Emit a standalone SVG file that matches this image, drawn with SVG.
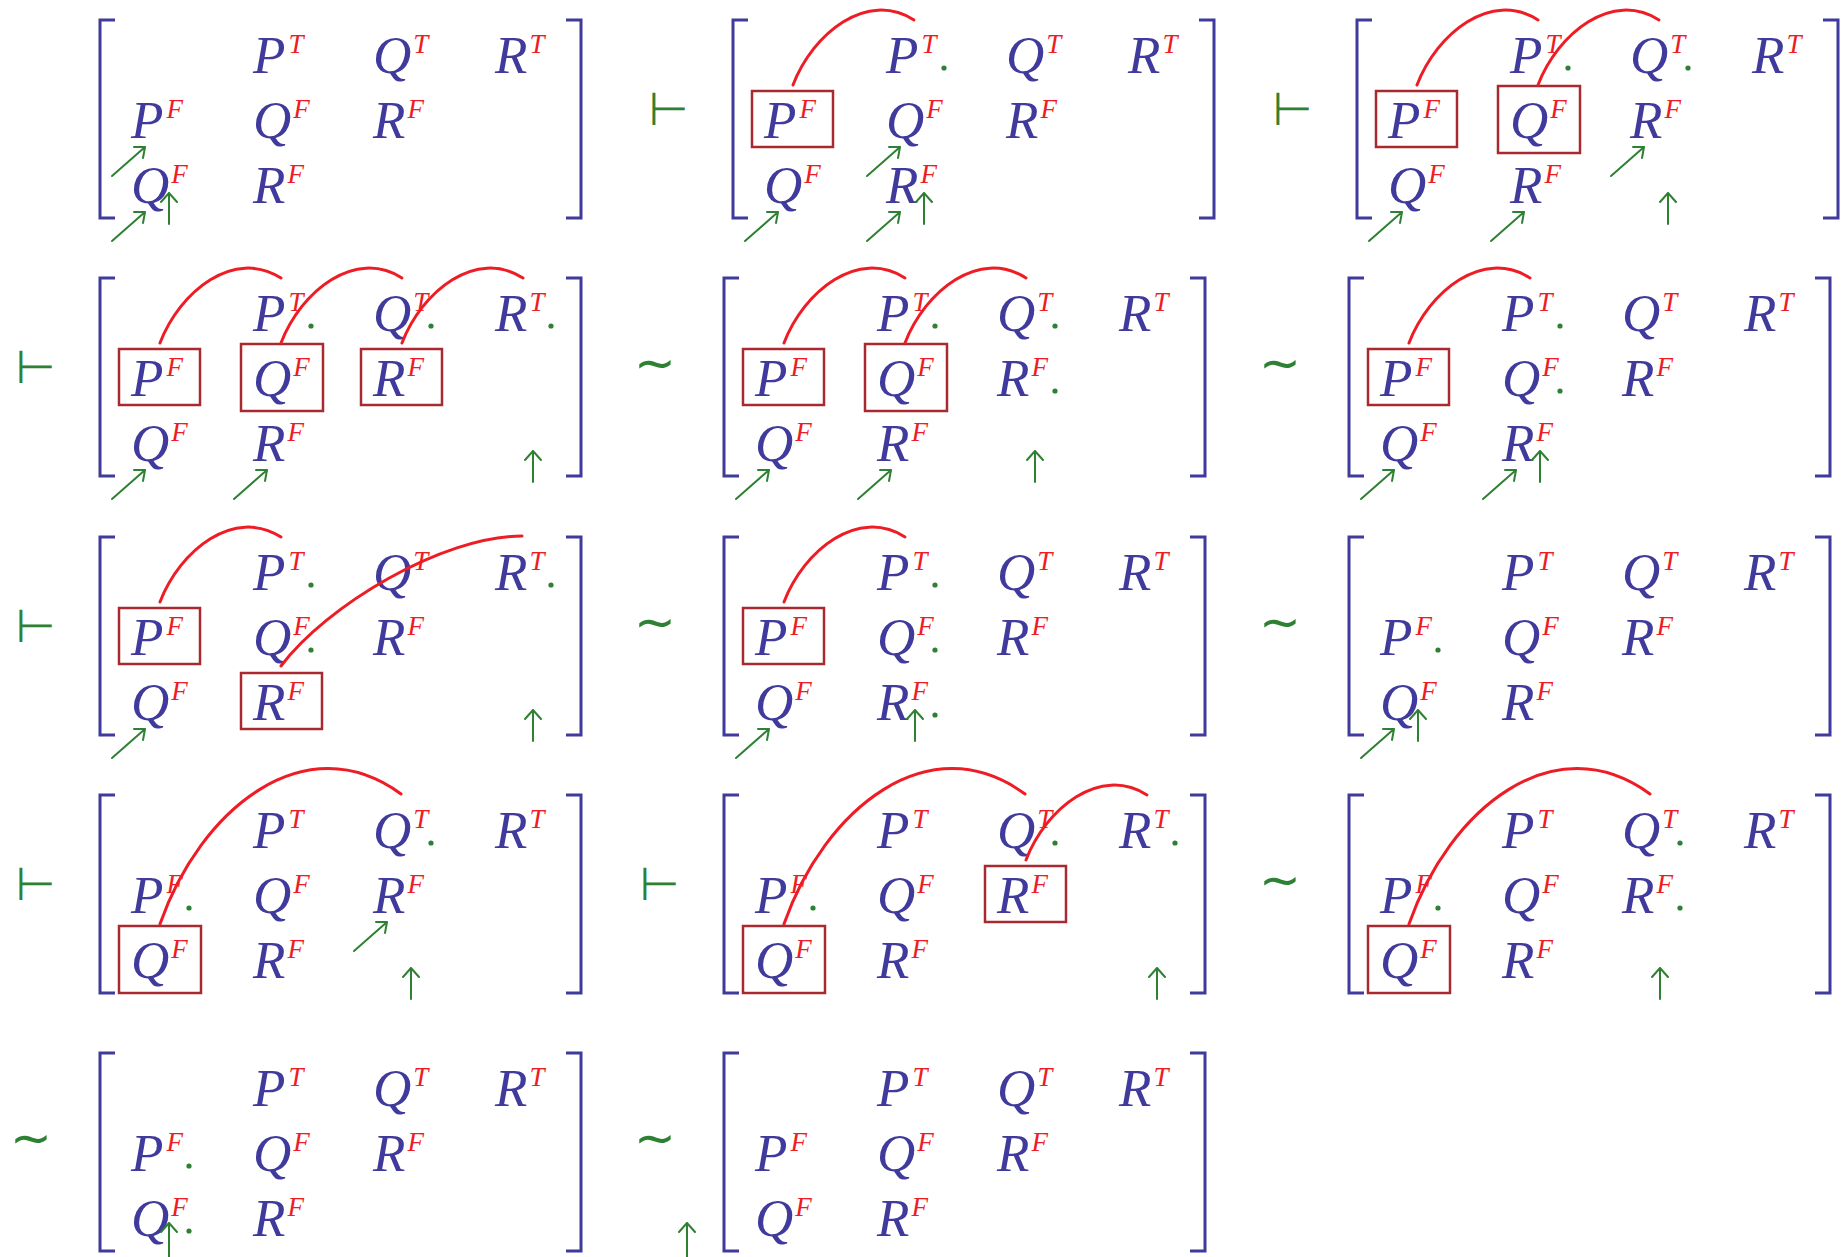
<svg xmlns="http://www.w3.org/2000/svg" width="1841" height="1257" viewBox="0 0 1841 1257">
<style>
.br{fill:none;stroke:#3f3a9b;stroke-width:3}
.m{font-family:"Liberation Serif",serif;font-style:italic;font-size:53px;fill:#3f3a9b}
.s{font-size:27px;fill:#ee1c24}
.bx{fill:none;stroke:#a8292f;stroke-width:2.5}
.dot{fill:#2e8032}
.arc{fill:none;stroke:#ee1c24;stroke-width:3;stroke-linecap:round}
.ar{fill:none;stroke:#2e8032;stroke-width:2;stroke-linecap:round;stroke-linejoin:round}
.op{font-family:"DejaVu Sans",sans-serif;fill:#2e8032;text-anchor:middle}
.ts{font-size:46px}
.ti{font-size:50px}
</style>
<rect width="1841" height="1257" fill="#fff"/>
<g id="operators">
<text class="op ts" x="668.5" y="125">⊢</text>
<text class="op ts" x="1292.5" y="125">⊢</text>
<text class="op ts" x="35.5" y="383">⊢</text>
<text class="op ti" x="655" y="380">∼</text>
<text class="op ti" x="1280" y="380">∼</text>
<text class="op ts" x="35.5" y="642">⊢</text>
<text class="op ti" x="655" y="639">∼</text>
<text class="op ti" x="1280" y="639">∼</text>
<text class="op ts" x="35.5" y="900">⊢</text>
<text class="op ts" x="659.5" y="900">⊢</text>
<text class="op ti" x="1280" y="897">∼</text>
<text class="op ti" x="31" y="1155">∼</text>
<text class="op ti" x="655" y="1155">∼</text>
</g>
<g id="m-A1" transform="translate(100,20)">
<path class="br" d="M15,0H0V198H15M466,0H481V198H466"/>
<text class="m" x="153" y="53">P<tspan class="s" dx="3" dy="-20">T</tspan></text>
<text class="m" x="273" y="53">Q<tspan class="s" dx="2" dy="-20">T</tspan></text>
<text class="m" x="395" y="53">R<tspan class="s" dx="2" dy="-20">T</tspan></text>
<text class="m" x="31" y="118">P<tspan class="s" dx="3" dy="-20">F</tspan></text>
<text class="m" x="153" y="118">Q<tspan class="s" dx="2" dy="-20">F</tspan></text>
<text class="m" x="273" y="118">R<tspan class="s" dx="2" dy="-20">F</tspan></text>
<text class="m" x="31" y="183">Q<tspan class="s" dx="2" dy="-20">F</tspan></text>
<text class="m" x="153" y="183">R<tspan class="s" dx="2" dy="-20">F</tspan></text>
</g>
<g id="m-A2" transform="translate(733,20)">
<path class="br" d="M15,0H0V198H15M466,0H481V198H466"/>
<text class="m" x="153" y="53">P<tspan class="s" dx="3" dy="-20">T</tspan></text>
<text class="m" x="273" y="53">Q<tspan class="s" dx="2" dy="-20">T</tspan></text>
<text class="m" x="395" y="53">R<tspan class="s" dx="2" dy="-20">T</tspan></text>
<text class="m" x="31" y="118">P<tspan class="s" dx="3" dy="-20">F</tspan></text>
<text class="m" x="153" y="118">Q<tspan class="s" dx="2" dy="-20">F</tspan></text>
<text class="m" x="273" y="118">R<tspan class="s" dx="2" dy="-20">F</tspan></text>
<text class="m" x="31" y="183">Q<tspan class="s" dx="2" dy="-20">F</tspan></text>
<text class="m" x="153" y="183">R<tspan class="s" dx="2" dy="-20">F</tspan></text>
<rect class="bx" x="19" y="71" width="81" height="56"/>
<circle class="dot" cx="211" cy="48" r="2.6"/>
</g>
<g id="m-A3" transform="translate(1357,20)">
<path class="br" d="M15,0H0V198H15M466,0H481V198H466"/>
<text class="m" x="153" y="53">P<tspan class="s" dx="3" dy="-20">T</tspan></text>
<text class="m" x="273" y="53">Q<tspan class="s" dx="2" dy="-20">T</tspan></text>
<text class="m" x="395" y="53">R<tspan class="s" dx="2" dy="-20">T</tspan></text>
<text class="m" x="31" y="118">P<tspan class="s" dx="3" dy="-20">F</tspan></text>
<text class="m" x="153" y="118">Q<tspan class="s" dx="2" dy="-20">F</tspan></text>
<text class="m" x="273" y="118">R<tspan class="s" dx="2" dy="-20">F</tspan></text>
<text class="m" x="31" y="183">Q<tspan class="s" dx="2" dy="-20">F</tspan></text>
<text class="m" x="153" y="183">R<tspan class="s" dx="2" dy="-20">F</tspan></text>
<rect class="bx" x="19" y="71" width="81" height="56"/>
<rect class="bx" x="141" y="66" width="82" height="67"/>
<circle class="dot" cx="211" cy="48" r="2.6"/>
<circle class="dot" cx="331" cy="48" r="2.6"/>
</g>
<g id="m-B1" transform="translate(100,278)">
<path class="br" d="M15,0H0V198H15M466,0H481V198H466"/>
<text class="m" x="153" y="53">P<tspan class="s" dx="3" dy="-20">T</tspan></text>
<text class="m" x="273" y="53">Q<tspan class="s" dx="2" dy="-20">T</tspan></text>
<text class="m" x="395" y="53">R<tspan class="s" dx="2" dy="-20">T</tspan></text>
<text class="m" x="31" y="118">P<tspan class="s" dx="3" dy="-20">F</tspan></text>
<text class="m" x="153" y="118">Q<tspan class="s" dx="2" dy="-20">F</tspan></text>
<text class="m" x="273" y="118">R<tspan class="s" dx="2" dy="-20">F</tspan></text>
<text class="m" x="31" y="183">Q<tspan class="s" dx="2" dy="-20">F</tspan></text>
<text class="m" x="153" y="183">R<tspan class="s" dx="2" dy="-20">F</tspan></text>
<rect class="bx" x="19" y="71" width="81" height="56"/>
<rect class="bx" x="141" y="66" width="82" height="67"/>
<rect class="bx" x="261" y="71" width="81" height="56"/>
<circle class="dot" cx="211" cy="48" r="2.6"/>
<circle class="dot" cx="331" cy="48" r="2.6"/>
<circle class="dot" cx="451" cy="48" r="2.6"/>
</g>
<g id="m-B2" transform="translate(724,278)">
<path class="br" d="M15,0H0V198H15M466,0H481V198H466"/>
<text class="m" x="153" y="53">P<tspan class="s" dx="3" dy="-20">T</tspan></text>
<text class="m" x="273" y="53">Q<tspan class="s" dx="2" dy="-20">T</tspan></text>
<text class="m" x="395" y="53">R<tspan class="s" dx="2" dy="-20">T</tspan></text>
<text class="m" x="31" y="118">P<tspan class="s" dx="3" dy="-20">F</tspan></text>
<text class="m" x="153" y="118">Q<tspan class="s" dx="2" dy="-20">F</tspan></text>
<text class="m" x="273" y="118">R<tspan class="s" dx="2" dy="-20">F</tspan></text>
<text class="m" x="31" y="183">Q<tspan class="s" dx="2" dy="-20">F</tspan></text>
<text class="m" x="153" y="183">R<tspan class="s" dx="2" dy="-20">F</tspan></text>
<rect class="bx" x="19" y="71" width="81" height="56"/>
<rect class="bx" x="141" y="66" width="82" height="67"/>
<circle class="dot" cx="211" cy="48" r="2.6"/>
<circle class="dot" cx="331" cy="48" r="2.6"/>
<circle class="dot" cx="331" cy="113" r="2.6"/>
</g>
<g id="m-B3" transform="translate(1349,278)">
<path class="br" d="M15,0H0V198H15M466,0H481V198H466"/>
<text class="m" x="153" y="53">P<tspan class="s" dx="3" dy="-20">T</tspan></text>
<text class="m" x="273" y="53">Q<tspan class="s" dx="2" dy="-20">T</tspan></text>
<text class="m" x="395" y="53">R<tspan class="s" dx="2" dy="-20">T</tspan></text>
<text class="m" x="31" y="118">P<tspan class="s" dx="3" dy="-20">F</tspan></text>
<text class="m" x="153" y="118">Q<tspan class="s" dx="2" dy="-20">F</tspan></text>
<text class="m" x="273" y="118">R<tspan class="s" dx="2" dy="-20">F</tspan></text>
<text class="m" x="31" y="183">Q<tspan class="s" dx="2" dy="-20">F</tspan></text>
<text class="m" x="153" y="183">R<tspan class="s" dx="2" dy="-20">F</tspan></text>
<rect class="bx" x="19" y="71" width="81" height="56"/>
<circle class="dot" cx="211" cy="48" r="2.6"/>
<circle class="dot" cx="211" cy="113" r="2.6"/>
</g>
<g id="m-C1" transform="translate(100,537)">
<path class="br" d="M15,0H0V198H15M466,0H481V198H466"/>
<text class="m" x="153" y="53">P<tspan class="s" dx="3" dy="-20">T</tspan></text>
<text class="m" x="273" y="53">Q<tspan class="s" dx="2" dy="-20">T</tspan></text>
<text class="m" x="395" y="53">R<tspan class="s" dx="2" dy="-20">T</tspan></text>
<text class="m" x="31" y="118">P<tspan class="s" dx="3" dy="-20">F</tspan></text>
<text class="m" x="153" y="118">Q<tspan class="s" dx="2" dy="-20">F</tspan></text>
<text class="m" x="273" y="118">R<tspan class="s" dx="2" dy="-20">F</tspan></text>
<text class="m" x="31" y="183">Q<tspan class="s" dx="2" dy="-20">F</tspan></text>
<text class="m" x="153" y="183">R<tspan class="s" dx="2" dy="-20">F</tspan></text>
<rect class="bx" x="19" y="71" width="81" height="56"/>
<rect class="bx" x="141" y="136" width="81" height="56"/>
<circle class="dot" cx="211" cy="48" r="2.6"/>
<circle class="dot" cx="451" cy="48" r="2.6"/>
<circle class="dot" cx="211" cy="113" r="2.6"/>
</g>
<g id="m-C2" transform="translate(724,537)">
<path class="br" d="M15,0H0V198H15M466,0H481V198H466"/>
<text class="m" x="153" y="53">P<tspan class="s" dx="3" dy="-20">T</tspan></text>
<text class="m" x="273" y="53">Q<tspan class="s" dx="2" dy="-20">T</tspan></text>
<text class="m" x="395" y="53">R<tspan class="s" dx="2" dy="-20">T</tspan></text>
<text class="m" x="31" y="118">P<tspan class="s" dx="3" dy="-20">F</tspan></text>
<text class="m" x="153" y="118">Q<tspan class="s" dx="2" dy="-20">F</tspan></text>
<text class="m" x="273" y="118">R<tspan class="s" dx="2" dy="-20">F</tspan></text>
<text class="m" x="31" y="183">Q<tspan class="s" dx="2" dy="-20">F</tspan></text>
<text class="m" x="153" y="183">R<tspan class="s" dx="2" dy="-20">F</tspan></text>
<rect class="bx" x="19" y="71" width="81" height="56"/>
<circle class="dot" cx="211" cy="48" r="2.6"/>
<circle class="dot" cx="211" cy="113" r="2.6"/>
<circle class="dot" cx="211" cy="178" r="2.6"/>
</g>
<g id="m-C3" transform="translate(1349,537)">
<path class="br" d="M15,0H0V198H15M466,0H481V198H466"/>
<text class="m" x="153" y="53">P<tspan class="s" dx="3" dy="-20">T</tspan></text>
<text class="m" x="273" y="53">Q<tspan class="s" dx="2" dy="-20">T</tspan></text>
<text class="m" x="395" y="53">R<tspan class="s" dx="2" dy="-20">T</tspan></text>
<text class="m" x="31" y="118">P<tspan class="s" dx="3" dy="-20">F</tspan></text>
<text class="m" x="153" y="118">Q<tspan class="s" dx="2" dy="-20">F</tspan></text>
<text class="m" x="273" y="118">R<tspan class="s" dx="2" dy="-20">F</tspan></text>
<text class="m" x="31" y="183">Q<tspan class="s" dx="2" dy="-20">F</tspan></text>
<text class="m" x="153" y="183">R<tspan class="s" dx="2" dy="-20">F</tspan></text>
<circle class="dot" cx="89" cy="113" r="2.6"/>
</g>
<g id="m-D1" transform="translate(100,795)">
<path class="br" d="M15,0H0V198H15M466,0H481V198H466"/>
<text class="m" x="153" y="53">P<tspan class="s" dx="3" dy="-20">T</tspan></text>
<text class="m" x="273" y="53">Q<tspan class="s" dx="2" dy="-20">T</tspan></text>
<text class="m" x="395" y="53">R<tspan class="s" dx="2" dy="-20">T</tspan></text>
<text class="m" x="31" y="118">P<tspan class="s" dx="3" dy="-20">F</tspan></text>
<text class="m" x="153" y="118">Q<tspan class="s" dx="2" dy="-20">F</tspan></text>
<text class="m" x="273" y="118">R<tspan class="s" dx="2" dy="-20">F</tspan></text>
<text class="m" x="31" y="183">Q<tspan class="s" dx="2" dy="-20">F</tspan></text>
<text class="m" x="153" y="183">R<tspan class="s" dx="2" dy="-20">F</tspan></text>
<rect class="bx" x="19" y="131" width="82" height="67"/>
<circle class="dot" cx="331" cy="48" r="2.6"/>
<circle class="dot" cx="89" cy="113" r="2.6"/>
</g>
<g id="m-D2" transform="translate(724,795)">
<path class="br" d="M15,0H0V198H15M466,0H481V198H466"/>
<text class="m" x="153" y="53">P<tspan class="s" dx="3" dy="-20">T</tspan></text>
<text class="m" x="273" y="53">Q<tspan class="s" dx="2" dy="-20">T</tspan></text>
<text class="m" x="395" y="53">R<tspan class="s" dx="2" dy="-20">T</tspan></text>
<text class="m" x="31" y="118">P<tspan class="s" dx="3" dy="-20">F</tspan></text>
<text class="m" x="153" y="118">Q<tspan class="s" dx="2" dy="-20">F</tspan></text>
<text class="m" x="273" y="118">R<tspan class="s" dx="2" dy="-20">F</tspan></text>
<text class="m" x="31" y="183">Q<tspan class="s" dx="2" dy="-20">F</tspan></text>
<text class="m" x="153" y="183">R<tspan class="s" dx="2" dy="-20">F</tspan></text>
<rect class="bx" x="19" y="131" width="82" height="67"/>
<rect class="bx" x="261" y="71" width="81" height="56"/>
<circle class="dot" cx="331" cy="48" r="2.6"/>
<circle class="dot" cx="451" cy="48" r="2.6"/>
<circle class="dot" cx="89" cy="113" r="2.6"/>
</g>
<g id="m-D3" transform="translate(1349,795)">
<path class="br" d="M15,0H0V198H15M466,0H481V198H466"/>
<text class="m" x="153" y="53">P<tspan class="s" dx="3" dy="-20">T</tspan></text>
<text class="m" x="273" y="53">Q<tspan class="s" dx="2" dy="-20">T</tspan></text>
<text class="m" x="395" y="53">R<tspan class="s" dx="2" dy="-20">T</tspan></text>
<text class="m" x="31" y="118">P<tspan class="s" dx="3" dy="-20">F</tspan></text>
<text class="m" x="153" y="118">Q<tspan class="s" dx="2" dy="-20">F</tspan></text>
<text class="m" x="273" y="118">R<tspan class="s" dx="2" dy="-20">F</tspan></text>
<text class="m" x="31" y="183">Q<tspan class="s" dx="2" dy="-20">F</tspan></text>
<text class="m" x="153" y="183">R<tspan class="s" dx="2" dy="-20">F</tspan></text>
<rect class="bx" x="19" y="131" width="82" height="67"/>
<circle class="dot" cx="331" cy="48" r="2.6"/>
<circle class="dot" cx="89" cy="113" r="2.6"/>
<circle class="dot" cx="331" cy="113" r="2.6"/>
</g>
<g id="m-E1" transform="translate(100,1053)">
<path class="br" d="M15,0H0V198H15M466,0H481V198H466"/>
<text class="m" x="153" y="53">P<tspan class="s" dx="3" dy="-20">T</tspan></text>
<text class="m" x="273" y="53">Q<tspan class="s" dx="2" dy="-20">T</tspan></text>
<text class="m" x="395" y="53">R<tspan class="s" dx="2" dy="-20">T</tspan></text>
<text class="m" x="31" y="118">P<tspan class="s" dx="3" dy="-20">F</tspan></text>
<text class="m" x="153" y="118">Q<tspan class="s" dx="2" dy="-20">F</tspan></text>
<text class="m" x="273" y="118">R<tspan class="s" dx="2" dy="-20">F</tspan></text>
<text class="m" x="31" y="183">Q<tspan class="s" dx="2" dy="-20">F</tspan></text>
<text class="m" x="153" y="183">R<tspan class="s" dx="2" dy="-20">F</tspan></text>
<circle class="dot" cx="89" cy="113" r="2.6"/>
<circle class="dot" cx="89" cy="178" r="2.6"/>
</g>
<g id="m-E2" transform="translate(724,1053)">
<path class="br" d="M15,0H0V198H15M466,0H481V198H466"/>
<text class="m" x="153" y="53">P<tspan class="s" dx="3" dy="-20">T</tspan></text>
<text class="m" x="273" y="53">Q<tspan class="s" dx="2" dy="-20">T</tspan></text>
<text class="m" x="395" y="53">R<tspan class="s" dx="2" dy="-20">T</tspan></text>
<text class="m" x="31" y="118">P<tspan class="s" dx="3" dy="-20">F</tspan></text>
<text class="m" x="153" y="118">Q<tspan class="s" dx="2" dy="-20">F</tspan></text>
<text class="m" x="273" y="118">R<tspan class="s" dx="2" dy="-20">F</tspan></text>
<text class="m" x="31" y="183">Q<tspan class="s" dx="2" dy="-20">F</tspan></text>
<text class="m" x="153" y="183">R<tspan class="s" dx="2" dy="-20">F</tspan></text>
</g>
<g id="connectors">
<g transform="translate(100,20)">
<path class="ar" d="M12,156L45,127M34,127L45,127L43,138"/>
<path class="ar" d="M12,221L45,192M34,192L45,192L43,203"/>
<path class="ar" d="M69,204V173M61,182L69,173L77,182"/>
</g>
<g transform="translate(733,20)">
<path class="arc" d="M60,65C80,13 134,-30 181,0"/>
<path class="ar" d="M134,156L167,127M156,127L167,127L165,138"/>
<path class="ar" d="M12,221L45,192M34,192L45,192L43,203"/>
<path class="ar" d="M134,221L167,192M156,192L167,192L165,203"/>
<path class="ar" d="M191,204V173M183,182L191,173L199,182"/>
</g>
<g transform="translate(1357,20)">
<path class="arc" d="M60,65C80,13 134,-30 181,0"/>
<path class="arc" d="M181,65C201,13 255,-30 302,0"/>
<path class="ar" d="M254,156L287,127M276,127L287,127L285,138"/>
<path class="ar" d="M12,221L45,192M34,192L45,192L43,203"/>
<path class="ar" d="M134,221L167,192M156,192L167,192L165,203"/>
<path class="ar" d="M311,204V173M303,182L311,173L319,182"/>
</g>
<g transform="translate(100,278)">
<path class="arc" d="M60,65C80,13 134,-30 181,0"/>
<path class="arc" d="M181,65C201,13 255,-30 302,0"/>
<path class="arc" d="M302,65C322,13 376,-30 423,0"/>
<path class="ar" d="M12,221L45,192M34,192L45,192L43,203"/>
<path class="ar" d="M134,221L167,192M156,192L167,192L165,203"/>
<path class="ar" d="M433,204V173M425,182L433,173L441,182"/>
</g>
<g transform="translate(724,278)">
<path class="arc" d="M60,65C80,13 134,-30 181,0"/>
<path class="arc" d="M181,65C201,13 255,-30 302,0"/>
<path class="ar" d="M12,221L45,192M34,192L45,192L43,203"/>
<path class="ar" d="M134,221L167,192M156,192L167,192L165,203"/>
<path class="ar" d="M311,204V173M303,182L311,173L319,182"/>
</g>
<g transform="translate(1349,278)">
<path class="arc" d="M60,65C80,13 134,-30 181,0"/>
<path class="ar" d="M12,221L45,192M34,192L45,192L43,203"/>
<path class="ar" d="M134,221L167,192M156,192L167,192L165,203"/>
<path class="ar" d="M191,204V173M183,182L191,173L199,182"/>
</g>
<g transform="translate(100,537)">
<path class="arc" d="M60,65C80,13 134,-30 181,0"/>
<path class="arc" d="M181,129C226,69 342,-1 422,-1"/>
<path class="ar" d="M12,221L45,192M34,192L45,192L43,203"/>
<path class="ar" d="M433,204V173M425,182L433,173L441,182"/>
</g>
<g transform="translate(724,537)">
<path class="arc" d="M60,65C80,13 134,-30 181,0"/>
<path class="ar" d="M12,221L45,192M34,192L45,192L43,203"/>
<path class="ar" d="M191,204V173M183,182L191,173L199,182"/>
</g>
<g transform="translate(1349,537)">
<path class="ar" d="M12,221L45,192M34,192L45,192L43,203"/>
<path class="ar" d="M69,204V173M61,182L69,173L77,182"/>
</g>
<g transform="translate(100,795)">
<path class="arc" d="M60,129C100,14 205,-71 301,-1"/>
<path class="ar" d="M254,156L287,127M276,127L287,127L285,138"/>
<path class="ar" d="M311,204V173M303,182L311,173L319,182"/>
</g>
<g transform="translate(724,795)">
<path class="arc" d="M60,129C100,14 205,-71 301,-1"/>
<path class="arc" d="M302,65C322,13 376,-30 423,0"/>
<path class="ar" d="M433,204V173M425,182L433,173L441,182"/>
</g>
<g transform="translate(1349,795)">
<path class="arc" d="M60,129C100,14 205,-71 301,-1"/>
<path class="ar" d="M311,204V173M303,182L311,173L319,182"/>
</g>
<g transform="translate(100,1053)">
<path class="ar" d="M69,206V170M61,179L69,170L77,179"/>
</g>
<g transform="translate(724,1053)">
<path class="ar" d="M-37,206V170M-45,179L-37,170L-29,179"/>
</g>
</g>
</svg>
